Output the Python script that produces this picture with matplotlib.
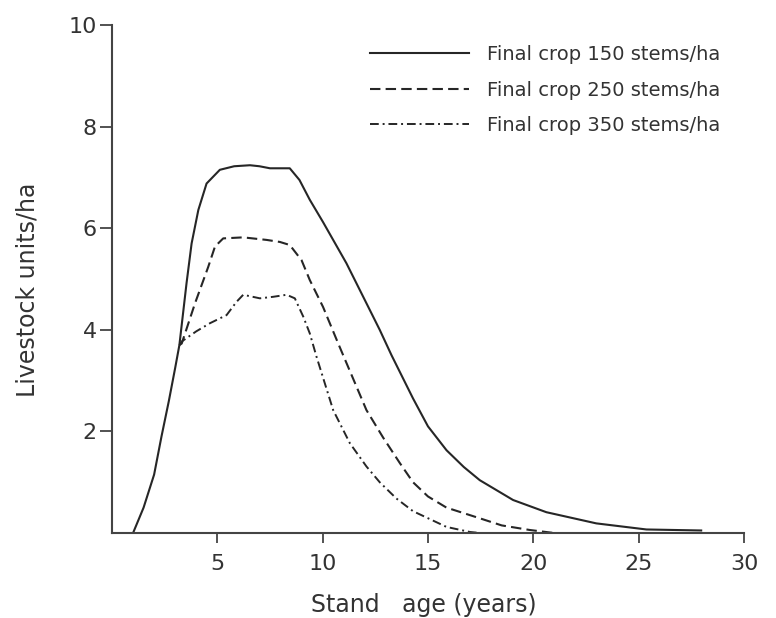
import matplotlib
matplotlib.use("Agg")
import matplotlib.pyplot as plt

INK = "#262626"

# values (stand age in years, livestock units/ha)
age_150 = [1.0, 1.5, 2.0, 2.35, 2.7, 3.0, 3.2, 3.54, 3.78, 4.1, 4.49, 5.12, 5.8, 6.55, 7.0, 7.5, 8.0, 8.44,
           8.9, 9.39, 10.02, 11.13, 12.24, 12.71, 13.27, 14.29, 15.0, 15.88, 16.7, 17.46, 19.04, 20.62,
           22.99, 25.37, 27.97]
lu_150 = [0.0, 0.5, 1.15, 1.9, 2.6, 3.25, 3.7, 4.92, 5.7, 6.36, 6.88, 7.15, 7.22, 7.24, 7.22, 7.18, 7.18, 7.18,
          6.95, 6.56, 6.12, 5.31, 4.39, 4.0, 3.5, 2.65, 2.1, 1.63, 1.3, 1.04, 0.65, 0.41,
          0.19, 0.07, 0.05]

age_250 = [3.2, 3.31, 3.94, 4.57, 4.89, 5.28, 6.23, 7.34, 7.97, 8.44, 9.0, 9.39, 10.02, 10.74, 12.08, 12.87,
           13.66, 14.29, 15.0, 15.88, 17.46, 18.5, 19.83, 21.0]
lu_250 = [3.7, 3.73, 4.52, 5.24, 5.64, 5.8, 5.82, 5.77, 5.73, 5.67, 5.37, 4.98, 4.45, 3.73, 2.42, 1.88,
          1.38, 1.0, 0.72, 0.5, 0.29, 0.15, 0.06, 0.0]

age_350 = [3.2, 3.31, 4.0, 4.65, 5.44, 5.91, 6.23, 7.02, 7.65, 8.29, 8.68, 9.08, 9.39, 9.71, 10.5, 11.29,
           12.08, 12.71, 13.5, 14.29, 15.88, 17.0, 17.5]
lu_350 = [3.7, 3.77, 3.97, 4.13, 4.29, 4.55, 4.69, 4.62, 4.65, 4.69, 4.62, 4.26, 3.93, 3.47, 2.42, 1.77,
          1.31, 1.0, 0.68, 0.43, 0.12, 0.02, 0.0]

labels = ["Final crop 150 stems/ha", "Final crop 250 stems/ha", "Final crop 350 stems/ha"]
x_ticks = [5, 10, 15, 20, 25, 30]
y_ticks = [2, 4, 6, 8, 10]


def main():
    fig = plt.figure(figsize=(7.76, 6.18), dpi=100)
    ax = fig.add_axes([0.1443, 0.1375, 0.8144, 0.822])

    ax.plot(age_150, lu_150, color=INK, lw=1.5, linestyle="-", label=labels[0])
    ax.plot(age_250, lu_250, color=INK, lw=1.5, linestyle=(0, (5, 2.5)), label=labels[1])
    ax.plot(age_350, lu_350, color=INK, lw=1.4, linestyle=(0, (4.5, 2, 1, 2)), label=labels[2])

    ax.set_xlim(0, 30); ax.set_ylim(0, 10)
    ax.set_xticks(x_ticks); ax.set_yticks(y_ticks)
    for s in ["top", "right"]:
        ax.spines[s].set_visible(False)
    for s in ["left", "bottom"]:
        ax.spines[s].set_color("#444444"); ax.spines[s].set_linewidth(1.5)
    ax.tick_params(axis="both", direction="out", width=1.3, color="#444444",
                   labelsize=16, labelcolor="#333333")
    ax.tick_params(axis="x", length=7, pad=8)
    ax.tick_params(axis="y", length=9, pad=2)

    ax.set_xlabel("Stand   age (years)", fontsize=17, color="#333333")
    ax.set_ylabel("Livestock units/ha", fontsize=17, color="#333333")
    ax.xaxis.set_label_coords(0.493, -0.118)
    ax.yaxis.set_label_coords(-0.115, 0.478)

    leg = ax.legend(loc="upper left", bbox_to_anchor=(0.4768, 0.927), bbox_transform=fig.transFigure,
                    frameon=False, fontsize=14, handlelength=5.1, handletextpad=0.9,
                    labelspacing=0.85, borderpad=0, borderaxespad=0)
    for t in leg.get_texts():
        t.set_color("#333333")

    fig.savefig("out.png", dpi=100)
    plt.close(fig)


if __name__ == "__main__":
    main()
